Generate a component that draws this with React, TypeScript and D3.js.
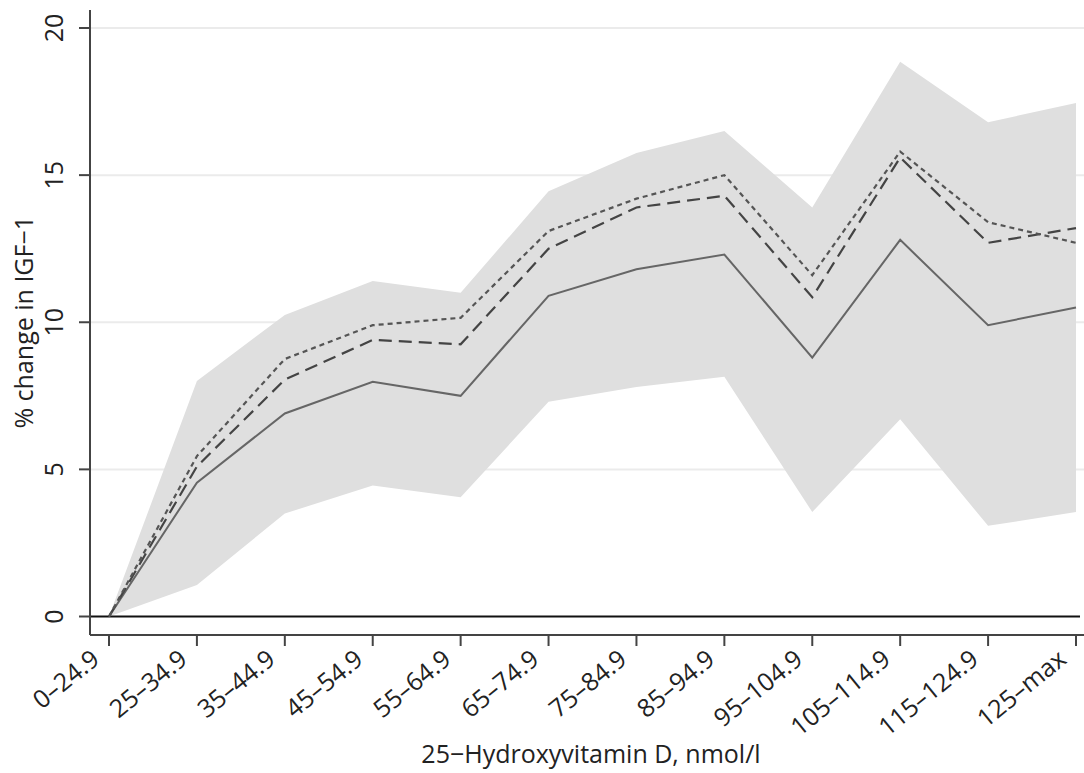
import React, { useRef, useEffect } from 'react';
import * as d3 from 'd3';

// vitamin D categories
const categories = ['0–24.9', '25–34.9', '35–44.9', '45–54.9', '55–64.9', '65–74.9', '75–84.9', '85–94.9', '95–104.9', '105–114.9', '115–124.9', '125–max'];

// confidence band
const bandUpper = [0, 8.0, 10.25, 11.4, 11.0, 14.45, 15.75, 16.5, 13.9, 18.85, 16.8, 17.45];
const bandLower = [0, 1.07, 3.5, 4.45, 4.05, 7.3, 7.8, 8.15, 3.55, 6.7, 3.08, 3.55];

// model estimates
const solid = [0, 4.55, 6.9, 7.98, 7.5, 10.9, 11.8, 12.3, 8.8, 12.8, 9.9, 10.5];
const dashed = [0, 5.1, 8.05, 9.4, 9.25, 12.5, 13.9, 14.3, 10.85, 15.6, 12.7, 13.2];
const dotted = [0, 5.45, 8.75, 9.9, 10.15, 13.1, 14.2, 15.0, 11.6, 15.8, 13.4, 12.7];

const yTicks = [0, 5, 10, 15, 20];

const App: React.FC = () => {
  const svgRef = useRef<SVGSVGElement>(null);
  const width = 1084;
  const height = 773;

  useEffect(() => {
    if (!svgRef.current) return;
    const svg = d3.select(svgRef.current);
    svg.selectAll('*').remove();

    const font = '"Open Sans", "Noto Sans", sans-serif';
    const axisX = 90;
    const axisY = 635;

    const x = d3.scalePoint<string>().domain(categories).range([109, 1076]);
    const y = d3.scaleLinear().domain([0, 20]).range([616.5, 28]);

    // grid lines
    svg
      .append('g')
      .selectAll('line')
      .data(yTicks.filter((d) => d > 0))
      .enter()
      .append('line')
      .attr('x1', axisX)
      .attr('x2', width)
      .attr('y1', (d) => y(d))
      .attr('y2', (d) => y(d))
      .attr('stroke', '#ebebeb')
      .attr('stroke-width', 2);

    // band
    const area = d3
      .area<number>()
      .x((_, i) => x(categories[i]) as number)
      .y0((_, i) => y(bandLower[i]))
      .y1((d) => y(d));
    svg.append('path').attr('d', area(bandUpper) as string).attr('fill', '#dfdfdf');

    // zero line
    svg
      .append('line')
      .attr('x1', axisX)
      .attr('x2', 1080)
      .attr('y1', y(0))
      .attr('y2', y(0))
      .attr('stroke', '#111')
      .attr('stroke-width', 2);

    const line = d3
      .line<number>()
      .x((_, i) => x(categories[i]) as number)
      .y((d) => y(d));

    svg
      .append('path')
      .attr('d', line(solid) as string)
      .attr('fill', 'none')
      .attr('stroke', '#666')
      .attr('stroke-width', 2);

    svg
      .append('path')
      .attr('d', line(dashed) as string)
      .attr('fill', 'none')
      .attr('stroke', '#444')
      .attr('stroke-width', 2.2)
      .attr('stroke-dasharray', '13,7');

    svg
      .append('path')
      .attr('d', line(dotted) as string)
      .attr('fill', 'none')
      .attr('stroke', '#555')
      .attr('stroke-width', 2.2)
      .attr('stroke-dasharray', '5,4');

    // y axis
    const yAxis = svg.append('g');
    yAxis
      .append('line')
      .attr('x1', axisX)
      .attr('x2', axisX)
      .attr('y1', 10)
      .attr('y2', axisY)
      .attr('stroke', '#444')
      .attr('stroke-width', 2);
    const yt = yAxis.selectAll('.yt').data(yTicks).enter().append('g').attr('class', 'yt');
    yt.append('line')
      .attr('x1', axisX - 11)
      .attr('x2', axisX)
      .attr('y1', (d) => y(d))
      .attr('y2', (d) => y(d))
      .attr('stroke', '#444')
      .attr('stroke-width', 2);
    yt.append('text')
      .attr('transform', (d) => `translate(63,${y(d)}) rotate(-90)`)
      .attr('text-anchor', 'middle')
      .attr('font-family', font)
      .attr('font-size', 25)
      .attr('fill', '#222')
      .text((d) => d);

    svg
      .append('text')
      .attr('transform', `translate(33,${y(10)}) rotate(-90)`)
      .attr('text-anchor', 'middle')
      .attr('font-family', font)
      .attr('font-size', 25)
      .attr('fill', '#222')
      .text('% change in IGF−1');

    // x axis
    const xAxis = svg.append('g');
    xAxis
      .append('line')
      .attr('x1', axisX)
      .attr('x2', width)
      .attr('y1', axisY)
      .attr('y2', axisY)
      .attr('stroke', '#444')
      .attr('stroke-width', 2);
    const xt = xAxis.selectAll('.xt').data(categories).enter().append('g').attr('class', 'xt');
    xt.append('line')
      .attr('x1', (d) => x(d) as number)
      .attr('x2', (d) => x(d) as number)
      .attr('y1', axisY)
      .attr('y2', axisY + 11)
      .attr('stroke', '#444')
      .attr('stroke-width', 2);
    xt.append('text')
      .attr('transform', (d) => `translate(${(x(d) as number) - 8},662) rotate(-39)`)
      .attr('text-anchor', 'end')
      .attr('font-family', font)
      .attr('font-size', 25)
      .attr('fill', '#222')
      .text((d) => d);

    svg
      .append('text')
      .attr('x', 591)
      .attr('y', 763)
      .attr('text-anchor', 'middle')
      .attr('font-family', font)
      .attr('font-size', 25)
      .attr('fill', '#222')
      .text('25−Hydroxyvitamin D, nmol/l');
  }, []);

  return (
    <svg
      ref={svgRef}
      width={width}
      height={height}
      style={{ position: 'absolute', left: 0, top: 0, background: '#fff' }}
    />
  );
};

export default App;
